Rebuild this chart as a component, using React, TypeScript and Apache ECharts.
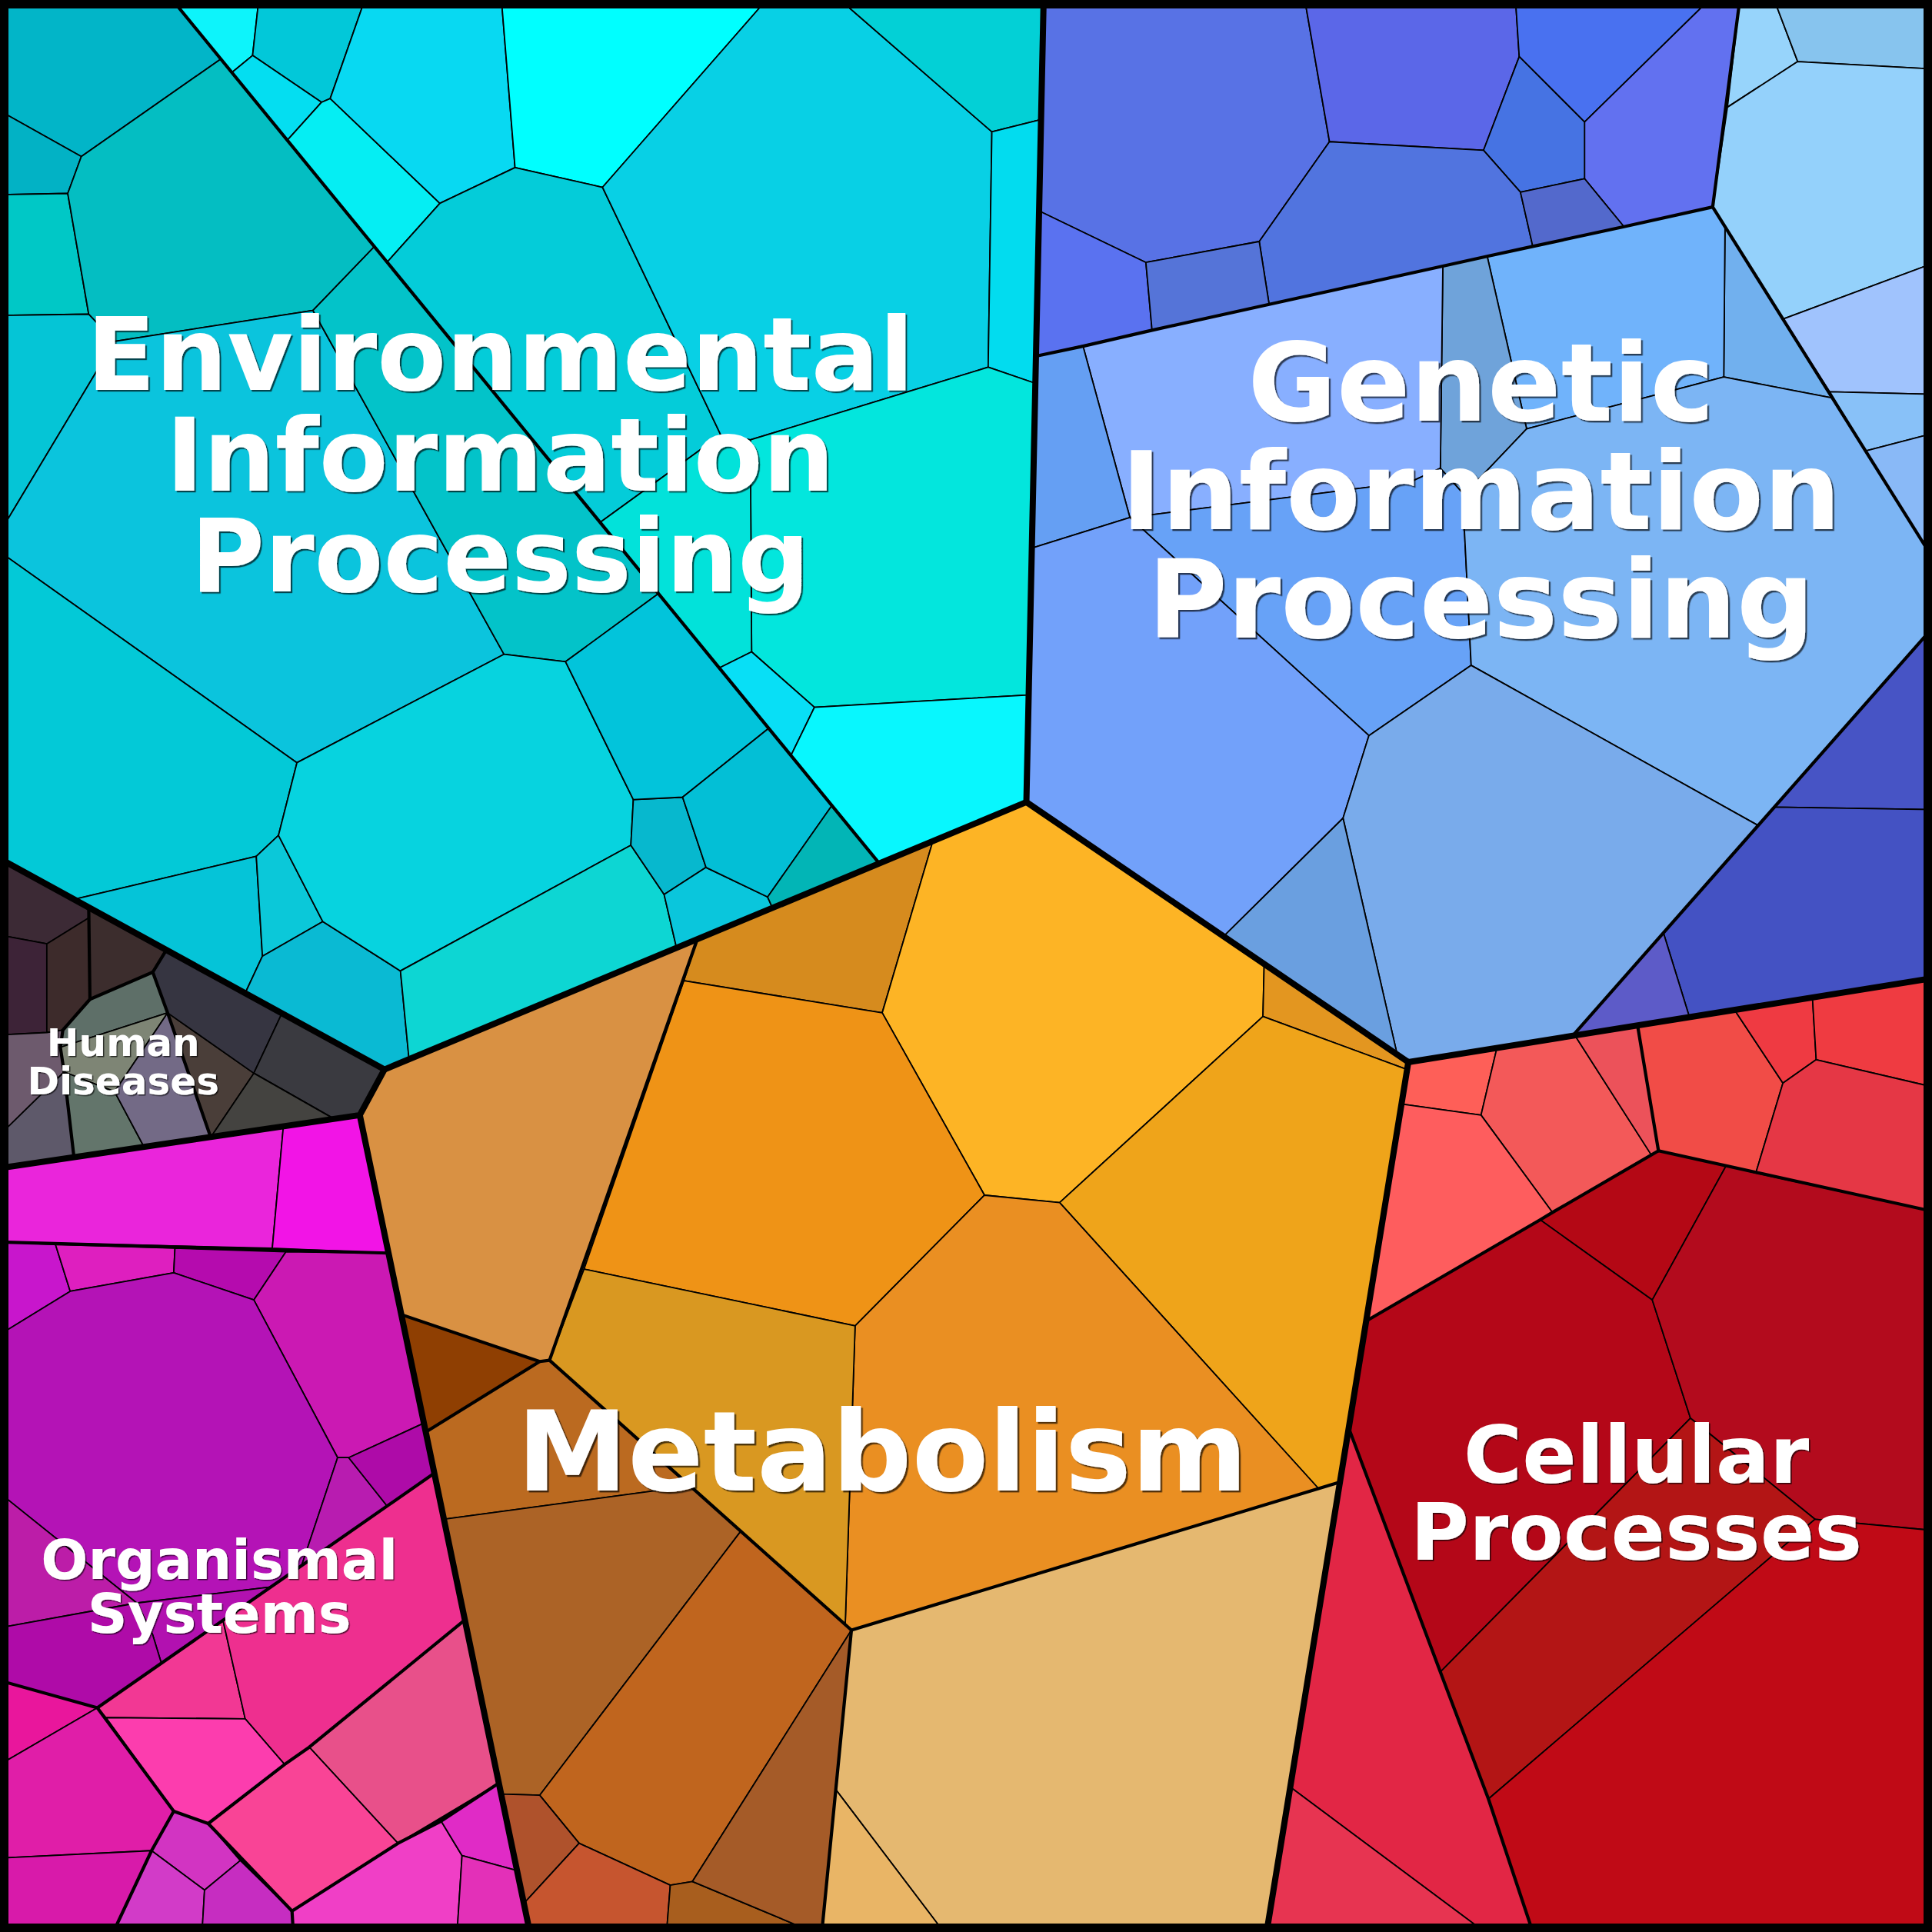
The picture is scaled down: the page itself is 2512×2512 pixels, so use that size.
import React, { useEffect, useRef } from "react";
import * as echarts from "echarts";

type Pt = [number, number];

// ---- Cell polygons (in a 1568 x 1568 data space) ----
const envCells: Pt[][] = [
  [[0,0],[140,0],[179,48],[66,127],[0,90]],
  [[0,90],[66,127],[55,157],[0,158]],
  [[0,158],[55,157],[72,255],[0,256]],
  [[66,127],[179,48],[304,200],[254,252],[93,277],[72,255],[55,157]],
  [[0,256],[72,255],[93,277],[0,432]],
  [[93,277],[254,252],[409,531],[241,619],[0,448],[0,432]],
  [[304,200],[534,482],[459,537],[409,531],[254,252]],
  [[0,448],[241,619],[226,678],[208,695],[60,730],[0,697]],
  [[60,730],[208,695],[213,776],[199,806]],
  [[208,695],[226,678],[262,748],[213,776]],
  [[199,806],[213,776],[262,748],[325,788],[332,860],[312,868]],
  [[241,619],[409,531],[459,537],[514,649],[512,686],[325,788],[262,748],[226,678]],
  [[325,788],[512,686],[539,726],[549,769],[332,860]],
  [[512,686],[514,649],[554,647],[573,704],[539,726]],
  [[539,726],[573,704],[623,728],[627,737],[549,769]],
  [[459,537],[534,482],[624,591],[554,647],[514,649]],
  [[554,647],[624,591],[675,654],[623,728],[573,704]],
  [[623,728],[675,654],[713,700],[627,737]],
  [[140,0],[210,0],[205,45],[188,59]],
  [[210,0],[296,0],[268,80],[261,83],[205,45]],
  [[188,59],[205,45],[261,83],[233,114]],
  [[233,114],[261,83],[268,80],[357,165],[314,213]],
  [[296,0],[407,0],[418,136],[357,165],[268,80]],
  [[407,0],[622,0],[489,152],[418,136]],
  [[314,213],[357,165],[418,136],[489,152],[585,353],[487,424]],
  [[622,0],[682,0],[805,107],[802,298],[609,357],[585,353],[489,152]],
  [[682,0],[847,0],[845,97],[805,107]],
  [[805,107],[845,97],[840,311],[802,298]],
  [[609,357],[802,298],[840,311],[835,564],[661,574],[610,529]],
  [[487,424],[585,353],[609,357],[610,529],[584,542]],
  [[584,542],[610,529],[661,574],[642,613]],
  [[642,613],[661,574],[835,564],[833,651],[713,700]],
];
const envColors = [
  "#02B5C8","#02B2C5","#00C8C6","#04BEC2","#05C5D6","#0BC4DD","#03C3C9","#03C9D7",
  "#05C4D8","#0BC8D9","#0ABAD3","#07D3DF","#0DD6D3","#07B8CE","#0AC6DC","#02C4DB",
  "#03BFD6","#02B5B6","#0DF4FB","#02C8D9","#04DEF1","#05EEF3","#08D9F2","#00FFFF",
  "#04CCD9","#08D0E5","#03D0D6","#02DCEF","#03E6DD","#02E2DA","#08DFF6","#08F7FE",
];

const humanCells: Pt[][] = [
  [[0,697],[72,736],[72,745],[38,766],[0,759]],
  [[0,759],[38,766],[38,838],[0,840]],
  [[38,766],[72,745],[73,811],[51,836],[38,838]],
  [[72,736],[135,771],[124,789],[73,811],[72,745]],
  [[73,811],[124,789],[136,822],[49,850],[51,836]],
  [[0,840],[38,838],[51,836],[49,850],[52,870],[0,921]],
  [[0,921],[52,870],[60,939],[0,948]],
  [[49,850],[136,822],[93,886],[52,870]],
  [[52,870],[93,886],[117,931],[60,939]],
  [[136,822],[171,923],[117,931],[93,886]],
  [[136,822],[206,871],[171,923]],
  [[124,789],[135,771],[229,822],[206,871],[136,822]],
  [[229,822],[312,868],[292,905],[271,908],[206,871]],
  [[206,871],[271,908],[171,923]],
];
const humanColors = [
  "#3C2A35","#3D2337","#3D2B2B","#3C2D2D","#5E6F68","#6D5A6D","#5E596A",
  "#7E8575","#63756B","#736A86","#4A3E39","#363541","#3A3A40","#444340",
];

const organismCells: Pt[][] = [
  [[0,948],[230,914],[221,1013],[0,1008]],
  [[230,914],[292,905],[315,1017],[221,1013]],
  [[0,1008],[45,1010],[57,1048],[0,1083]],
  [[45,1010],[142,1013],[141,1033],[57,1048]],
  [[142,1013],[232,1016],[206,1055],[141,1033]],
  [[232,1016],[315,1017],[344,1155],[283,1183],[274,1183],[206,1055]],
  [[0,1083],[57,1048],[141,1033],[206,1055],[274,1183],[245,1270],[220,1288],[111,1301],[0,1212]],
  [[0,1212],[111,1301],[0,1321]],
  [[274,1183],[283,1183],[314,1222],[245,1270]],
  [[283,1183],[344,1155],[352,1196],[314,1222]],
  [[111,1301],[220,1288],[131,1350],[124,1327]],
  [[0,1321],[111,1301],[124,1327],[131,1350],[79,1386],[0,1364]],
  [[79,1386],[181,1315],[199,1395],[86,1394]],
  [[181,1315],[352,1196],[377,1315],[251,1418],[231,1432],[199,1395]],
  [[86,1394],[199,1395],[231,1432],[169,1480],[141,1470]],
  [[251,1418],[377,1315],[405,1447],[323,1496]],
  [[169,1480],[231,1432],[251,1418],[323,1496],[237,1551]],
  [[237,1551],[323,1496],[358,1478],[375,1506],[371,1568],[238,1568]],
  [[358,1478],[405,1447],[419,1518],[375,1506]],
  [[375,1506],[419,1518],[430,1568],[371,1568]],
  [[0,1364],[79,1386],[0,1432]],
  [[0,1432],[79,1386],[141,1470],[123,1502],[0,1508]],
  [[0,1508],[123,1502],[92,1568],[0,1568]],
  [[123,1502],[141,1470],[169,1480],[195,1510],[166,1534]],
  [[123,1502],[166,1534],[164,1568],[92,1568]],
  [[166,1534],[195,1510],[237,1551],[238,1568],[164,1568]],
];
const organismColors = [
  "#EA25DB","#F214E6","#C816CC","#DE1FBF","#B50BAE","#CB19B3","#B413B6","#BC1DA8",
  "#B81CB0","#AE0BA8","#B211B0","#AF0BA8","#F23894","#EE2F8F","#FC3DAE","#E8508A",
  "#F94496","#F03FC6","#E02BC6","#E330B8","#E9169C","#E01EA8","#D81AAA","#D234C2",
  "#D23BC8","#C62DC1",
];

const metabolismCells: Pt[][] = [
  [[312,868],[566,762],[555,796],[474,1030],[446,1104],[438,1105],[326,1067],[292,905]],
  [[326,1067],[438,1105],[346,1162]],
  [[346,1162],[438,1105],[446,1104],[560,1206],[360,1233]],
  [[360,1233],[560,1206],[601,1243],[438,1457],[406,1456]],
  [[601,1243],[691,1323],[562,1527],[544,1530],[470,1496],[438,1457]],
  [[406,1456],[438,1457],[470,1496],[425,1545]],
  [[425,1545],[470,1496],[544,1530],[541,1568],[430,1568]],
  [[544,1530],[562,1527],[660,1568],[541,1568]],
  [[562,1527],[691,1323],[667,1568],[660,1568]],
  [[566,762],[757,683],[716,822],[555,796]],
  [[757,683],[833,651],[1026,782],[1025,825],[860,976],[799,970],[716,822]],
  [[1026,782],[1143,862],[1142,868],[1025,825]],
  [[1025,825],[1142,868],[1087,1203],[1070,1208],[860,976]],
  [[555,796],[716,822],[799,970],[694,1076],[474,1030]],
  [[694,1076],[799,970],[860,976],[1070,1208],[691,1323],[686,1318]],
  [[446,1104],[474,1030],[694,1076],[686,1318]],
  [[691,1323],[1070,1208],[1087,1203],[1028,1568],[766,1568],[678,1452]],
  [[678,1452],[766,1568],[667,1568]],
];
const metabolismColors = [
  "#D99143","#8F3F02","#BB6A20","#AC6326","#C0651E","#AF522C","#C6552F","#A85E1E",
  "#A55B28","#D68B1E","#FDB425","#E39620","#EFA41A","#EF9316","#EA8F22","#D99821",
  "#E5B870","#E9B566",
];

const geneticCells: Pt[][] = [
  [[847,0],[1059,0],[1079,115],[1022,196],[930,213],[843,171]],
  [[1059,0],[1230,0],[1233,46],[1204,122],[1079,115]],
  [[1230,0],[1387,0],[1286,99],[1233,46]],
  [[1387,0],[1412,0],[1390,168],[1318,184],[1286,145],[1286,99]],
  [[1233,46],[1286,99],[1286,145],[1234,156],[1204,122]],
  [[1079,115],[1204,122],[1234,156],[1244,200],[1030,247],[1022,196]],
  [[1234,156],[1286,145],[1318,184],[1244,200]],
  [[843,171],[930,213],[935,268],[841,289]],
  [[930,213],[1022,196],[1030,247],[935,268]],
  [[1412,0],[1440,0],[1459,50],[1402,87]],
  [[1440,0],[1568,0],[1568,56],[1459,50]],
  [[1402,87],[1459,50],[1568,56],[1568,214],[1447,259],[1400,184],[1390,168]],
  [[1447,259],[1568,214],[1568,320],[1485,318]],
  [[1485,318],[1568,320],[1568,352],[1514,366]],
  [[1514,366],[1568,352],[1568,452]],
  [[1400,184],[1487,323],[1399,306]],
  [[1207,208],[1244,200],[1318,184],[1390,168],[1400,184],[1399,306],[1239,348]],
  [[1171,216],[1207,208],[1239,348],[1201,388],[1187,400],[1169,380]],
  [[879,281],[935,268],[1030,247],[1171,216],[1169,380],[1145,391],[917,420]],
  [[841,289],[879,281],[917,420],[837,445]],
  [[917,420],[1145,391],[1169,380],[1187,400],[1194,540],[1111,597]],
  [[837,445],[917,420],[1111,597],[1090,664],[993,760],[833,651]],
  [[1187,400],[1201,388],[1239,348],[1399,306],[1487,323],[1568,452],[1568,510],[1440,655],[1427,670],[1194,540]],
  [[1111,597],[1194,540],[1427,670],[1350,757],[1276,841],[1143,862],[1134,856],[1090,664]],
  [[993,760],[1090,664],[1134,856]],
  [[1568,510],[1568,657],[1440,655]],
  [[1440,655],[1568,657],[1568,794],[1371,825],[1350,757]],
  [[1350,757],[1371,825],[1276,841]],
];
const geneticColors = [
  "#5872E5","#5B67E8","#4971F0","#6271F0","#4673E3","#5174DF","#5369CC","#5A72F0",
  "#5574D8","#97D4FB","#87C4EE","#94D1FB","#A0C3FD","#88C1F8","#89B9F7","#71B0EE",
  "#70B3FB","#6FA3DA","#88AFFF","#659FF3","#67A2F7","#72A1FA","#7CB5F4","#79ABEB",
  "#6A9FE0","#4754C5","#4452C3","#5D5BC8",
];

const cellularCells: Pt[][] = [
  [[1143,862],[1215,850],[1202,905],[1137,896]],
  [[1215,850],[1278,840],[1340,937],[1260,984],[1202,905]],
  [[1278,840],[1329,832],[1346,934],[1340,937]],
  [[1329,832],[1408,820],[1447,879],[1425,952],[1401,946],[1346,934]],
  [[1408,820],[1471,810],[1474,860],[1447,879]],
  [[1471,810],[1568,794],[1568,882],[1474,860]],
  [[1447,879],[1474,860],[1568,882],[1568,983],[1425,952]],
  [[1137,896],[1202,905],[1260,984],[1109,1072]],
  [[1250,990],[1346,934],[1401,946],[1341,1055]],
  [[1109,1072],[1250,990],[1341,1055],[1372,1151],[1169,1357],[1095,1160]],
  [[1401,946],[1425,952],[1568,983],[1568,1242],[1473,1233],[1372,1151],[1341,1055]],
  [[1169,1357],[1372,1151],[1473,1233],[1208,1460]],
  [[1208,1460],[1473,1233],[1568,1242],[1568,1568],[1244,1568]],
  [[1095,1160],[1169,1357],[1208,1460],[1244,1568],[1205,1568],[1048,1451]],
  [[1048,1451],[1205,1568],[1028,1568]],
];
const cellularColors = [
  "#FE5F58","#F35959","#EC525A","#F14C47","#EF3A42","#EF3B41","#E53745","#FE5D5E",
  "#B40815","#B40718","#B30B1D","#B31515","#C00A16","#E22645","#E73451",
];

// ---- Boundaries between sub-groups (medium) and top-level categories (thick) ----
const subgroupBorders: Pt[][] = [
  [[140,0],[713,700]],
  [[841,289],[879,281],[935,268],[1030,247],[1171,216],[1207,208],[1244,200],[1318,184],[1390,168]],
  [[1412,0],[1390,168],[1568,452]],
  [[1568,510],[1276,841]],
  [[566,762],[446,1104],[691,1323],[1087,1203]],
  [[326,1067],[438,1105],[346,1162]],
  [[438,1105],[446,1104]],
  [[691,1323],[667,1568]],
  [[1109,1072],[1250,990],[1260,984],[1346,934],[1568,983]],
  [[1329,832],[1346,934]],
  [[1095,1160],[1169,1357],[1208,1460],[1244,1568]],
  [[0,1008],[315,1017]],
  [[352,1196],[79,1386],[0,1364]],
  [[79,1386],[141,1470],[169,1480],[237,1551],[238,1568]],
  [[141,1470],[123,1502],[92,1568]],
  [[169,1480],[231,1432],[251,1418],[377,1315]],
  [[237,1551],[323,1496],[358,1478],[405,1447]],
  [[72,736],[73,811],[124,789],[135,771]],
  [[124,789],[136,822],[171,923]],
  [[73,811],[51,836],[49,850],[52,870],[60,939]],
];
const categoryBorders: Pt[][] = [
  [[847,0],[833,651],[1143,862],[1568,794]],
  [[833,651],[312,868],[0,697]],
  [[312,868],[292,905],[0,948]],
  [[292,905],[430,1568]],
  [[1143,862],[1028,1568]],
];
const frameOutline: Pt[] = [[0,0],[1568,0],[1568,1568],[0,1568],[0,0]];

// ---- Category labels ----
const labelTexts = [
  "Environmental\nInformation\nProcessing",
  "Genetic\nInformation\nProcessing",
  "Metabolism",
  "Cellular\nProcesses",
  "Organismal\nSystems",
  "Human\nDiseases",
];

// layout for the labels (anchor in data space, font size in px)
const labelLayout: { at: Pt; size: number; lh: number }[] = [
  { at: [406, 370], size: 131, lh: 131 },
  { at: [1202, 399], size: 141, lh: 141 },
  { at: [716, 1178], size: 145, lh: 145 },
  { at: [1328, 1212], size: 104, lh: 100 },
  { at: [178, 1288], size: 72, lh: 70 },
  { at: [100, 862], size: 50, lh: 50 },
];

const allCells: Pt[][] = [
  ...envCells, ...humanCells, ...organismCells,
  ...metabolismCells, ...geneticCells, ...cellularCells,
];
const allColors: string[] = [
  ...envColors, ...humanColors, ...organismColors,
  ...metabolismColors, ...geneticColors, ...cellularColors,
];

export default function App() {
  const ref = useRef<HTMLDivElement>(null);

  useEffect(() => {
    if (!ref.current) return;
    const chart = echarts.init(ref.current, undefined, { renderer: "svg" });

    const lineSeries = (lines: Pt[][], width: number, name: string) => ({
      type: "custom",
      name,
      coordinateSystem: "cartesian2d",
      silent: true,
      data: lines.map((l, i) => [l[0][0], l[0][1], i]),
      renderItem: (_p: any, api: any) => {
        const idx = api.value(2) as number;
        const pts = lines[idx].map((p) => api.coord(p));
        return {
          type: "polyline",
          shape: { points: pts },
          style: { stroke: "#000", lineWidth: width, fill: null, lineJoin: "round", lineCap: "round" },
        };
      },
    });

    chart.setOption({
      animation: false,
      backgroundColor: "#000",
      grid: { left: 0, right: 0, top: 0, bottom: 0, containLabel: false },
      xAxis: { type: "value", min: 0, max: 1568, show: false },
      yAxis: { type: "value", min: 0, max: 1568, inverse: true, show: false },
      series: [
        {
          type: "custom",
          name: "cells",
          coordinateSystem: "cartesian2d",
          silent: true,
          data: allCells.map((c, i) => [c[0][0], c[0][1], i]),
          renderItem: (_p: any, api: any) => {
            const idx = api.value(2) as number;
            const pts = allCells[idx].map((p) => api.coord(p));
            return {
              type: "polygon",
              shape: { points: pts },
              style: { fill: allColors[idx], stroke: "#000", lineWidth: 1.8, lineJoin: "round" },
            };
          },
        },
        lineSeries(subgroupBorders, 4.2, "subgroups"),
        lineSeries(categoryBorders, 8, "categories"),
        lineSeries([frameOutline], 22, "frame"),
        {
          type: "custom",
          name: "labels",
          coordinateSystem: "cartesian2d",
          silent: true,
          z: 10,
          data: labelLayout.map((l, i) => [l.at[0], l.at[1], i]),
          renderItem: (_p: any, api: any) => {
            const idx = api.value(2) as number;
            const pos = api.coord([api.value(0), api.value(1)]);
            const lay = labelLayout[idx];
            return {
              type: "text",
              x: pos[0],
              y: pos[1],
              style: {
                text: labelTexts[idx],
                fill: "#ffffff",
                fontSize: lay.size,
                lineHeight: lay.lh,
                fontWeight: "bold",
                fontFamily: "DejaVu Sans",
                align: "center",
                verticalAlign: "middle",
                textShadowColor: "rgba(0,0,0,0.65)",
                textShadowOffsetX: Math.max(1.5, lay.size / 60),
                textShadowOffsetY: Math.max(1.5, lay.size / 60),
                textShadowBlur: 1,
              },
            };
          },
        },
      ],
    });

    return () => chart.dispose();
  }, []);

  return (
    <div
      ref={ref}
      style={{ position: "absolute", left: 0, top: 0, width: 2512, height: 2512 }}
    />
  );
}
